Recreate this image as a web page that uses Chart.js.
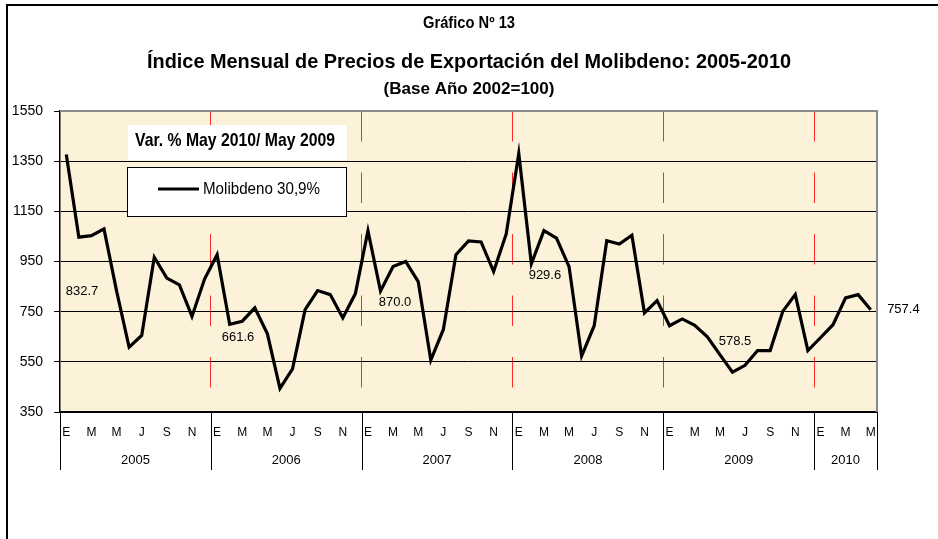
<!DOCTYPE html>
<html>
<head>
<meta charset="utf-8">
<script src="https://cdn.jsdelivr.net/npm/chart.js@4.4.1/dist/chart.umd.min.js"></script>
<style>
  html, body { margin: 0; padding: 0; background: #fff; }
  #wrap { width: 938px; height: 539px; position: relative; }
</style>
</head>
<body>
<div id="wrap"><canvas id="chart" width="938" height="539"></canvas></div>
<script>
// --- data ---
const years = ['2005', '2006', '2007', '2008', '2009', '2010'];
const monthTicks = ['E', '', 'M', '', 'M', '', 'J', '', 'S', '', 'N', ''];
const molibdeno = [
  1377, 1047, 1053, 1080, 832.7, 608, 655, 967, 884, 857, 731, 880,    // 2005
  977, 700, 712, 765, 661.6, 444, 522, 758, 834, 818, 725, 822,        // 2006
  1073, 832, 930, 950, 870.0, 557, 679, 977, 1032, 1028, 910, 1060,    // 2007
  1381, 941, 1073, 1043, 929.6, 573, 694, 1033, 1020, 1055, 745, 794,  // 2008
  694, 721, 696, 650, 578.5, 509, 536, 595, 595, 751, 818, 595,        // 2009
  646, 698, 805, 818, 757.4                                            // 2010
];
const mayNotes = ['832.7', '661.6', '870.0', '929.6', '578.5', '757.4'];
const yTicks = [350, 550, 750, 950, 1150, 1350, 1550];

const labels = [];
years.forEach(y => monthTicks.forEach(m => labels.push(m)));
labels.length = molibdeno.length;

const SANS = '"Liberation Sans", Arial, sans-serif';

// where the May notes sit (category position + pixel nudge)
const notePos = [
  { at: 1.25, dy: 0 }, { at: 13.66, dy: 4 }, { at: 26.15, dy: 21 },
  { at: 38.08, dy: 9 }, { at: 53.2, dy: -13 }, { at: 66.6, dy: 0 }
];
const noteMonth = [4, 16, 28, 40, 52, 64];

// the original uses a narrow face; squeeze Liberation Sans to the measured width
function narrowText(ctx, txt, x, y, font, width, align) {
  ctx.font = font;
  const k = width / ctx.measureText(txt).width;
  ctx.save();
  ctx.translate(x, y);
  ctx.scale(k, 1);
  ctx.textAlign = align;
  ctx.fillText(txt, 0, 0);
  ctx.restore();
}

const paper = {
  id: 'paper',
  beforeDraw(chart) {
    const { ctx, chartArea: a } = chart;
    ctx.save();
    ctx.fillStyle = '#fff';
    ctx.fillRect(0, 0, chart.width, chart.height);
    ctx.fillStyle = '#fcf2da';
    ctx.fillRect(a.left, a.top, a.right - a.left, a.bottom - a.top);
    // outer frame
    ctx.strokeStyle = '#000';
    ctx.lineWidth = 2;
    ctx.beginPath();
    ctx.moveTo(7, chart.height);
    ctx.lineTo(7, 5);
    ctx.lineTo(chart.width, 5);
    ctx.stroke();
    ctx.restore();
  },
  beforeDatasetsDraw(chart) {
    const { ctx, chartArea: a } = chart;
    ctx.save();
    ctx.strokeStyle = '#8a8a8a';
    ctx.lineWidth = 2;
    ctx.beginPath();
    ctx.moveTo(a.left, a.top);
    ctx.lineTo(a.right, a.top);
    ctx.lineTo(a.right, a.bottom);
    ctx.stroke();
    ctx.restore();
  },
  afterDatasetsDraw(chart) {
    const { ctx } = chart;
    const x = chart.scales.x, y = chart.scales.y;
    ctx.save();
    ctx.textBaseline = 'middle';
    // legend boxes
    ctx.fillStyle = '#fff';
    ctx.fillRect(128, 125, 219, 35);
    ctx.fillRect(127.5, 167.5, 219, 49);
    ctx.strokeStyle = '#000';
    ctx.lineWidth = 1;
    ctx.strokeRect(127.5, 167.5, 219, 49);
    ctx.lineWidth = 3;
    ctx.beginPath();
    ctx.moveTo(158, 189);
    ctx.lineTo(199, 189);
    ctx.stroke();

    ctx.fillStyle = '#000';
    narrowText(ctx, 'Var. % May 2010/ May 2009', 135, 141, 'bold 19px ' + SANS, 200, 'left');
    narrowText(ctx, chart.data.datasets[0].label, 203, 189, '17px ' + SANS, 117, 'left');

    // May value notes
    ctx.font = '13px ' + SANS;
    ctx.textAlign = 'center';
    mayNotes.forEach((txt, k) => {
      const px = x.getPixelForValue(notePos[k].at);
      const py = y.getPixelForValue(molibdeno[noteMonth[k]]) + notePos[k].dy;
      ctx.fillText(txt, px, py);
    });
    ctx.restore();
  },
  afterDraw(chart) {
    const { ctx, chartArea: a } = chart;
    const x = chart.scales.x;
    const half = (x.getPixelForValue(1) - x.getPixelForValue(0)) / 2;
    ctx.save();
    // year separators and year labels under the axis
    ctx.strokeStyle = '#000';
    ctx.lineWidth = 1;
    const bounds = [];
    for (let i = 0; i < molibdeno.length; i += 12) bounds.push(i);
    bounds.push(molibdeno.length);
    ctx.beginPath();
    bounds.forEach(i => {
      const px = Math.round(x.getPixelForValue(i) - half) + 0.5;
      ctx.moveTo(px, a.bottom);
      ctx.lineTo(px, 470);
    });
    ctx.stroke();
    ctx.fillStyle = '#000';
    ctx.font = '13px ' + SANS;
    ctx.textAlign = 'center';
    ctx.textBaseline = 'middle';
    years.forEach((yr, k) => {
      const i0 = bounds[k], i1 = bounds[k + 1];
      const mid = (x.getPixelForValue(i0) + x.getPixelForValue(i1 - 1)) / 2;
      ctx.fillText(yr, mid, 460);
    });
    // headings
    narrowText(ctx, 'Gráfico Nº 13', 469, 24, 'bold 16px ' + SANS, 92, 'center');
    narrowText(ctx, 'Índice Mensual de Precios de Exportación del Molibdeno: 2005-2010', 469, 62,
      'bold 21px ' + SANS, 644, 'center');
    narrowText(ctx, '(Base Año 2002=100)', 469, 90, 'bold 16px ' + SANS, 171, 'center');
    ctx.restore();
  }
};

new Chart(document.getElementById('chart'), {
  type: 'line',
  data: {
    labels: labels,
    datasets: [{
      label: 'Molibdeno 30,9%',
      data: molibdeno,
      borderColor: '#000',
      borderWidth: 3.2,
      pointRadius: 0,
      tension: 0,
      fill: false
    }]
  },
  options: {
    responsive: false,
    animation: false,
    layout: { padding: { top: 111, right: 61, bottom: 67, left: 0 } },
    plugins: {
      legend: { display: false },
      title: { display: false },
      tooltip: { enabled: false }
    },
    scales: {
      x: {
        offset: true,
        afterFit: s => { s.height = 60; },
        grid: {
          offset: true,
          drawTicks: false,
          lineWidth: 1,
          color: c => (c.index % 12 === 0 && c.index > 0 && c.index < molibdeno.length) ? '#ff2b2b' : 'rgba(0,0,0,0)'
        },
        border: { color: '#000', width: 1.5, dash: [30.5, 31] },
        ticks: {
          autoSkip: false,
          maxRotation: 0,
          padding: 13,
          color: '#000',
          font: { family: SANS, size: 12 }
        }
      },
      y: {
        min: yTicks[0],
        max: yTicks[yTicks.length - 1],
        afterFit: s => { s.width = 60; },
        afterBuildTicks: s => { s.ticks = yTicks.map(v => ({ value: v })); },
        grid: {
          color: c => (c.tick && c.tick.value === 1550) ? 'rgba(0,0,0,0)' : '#000',
          lineWidth: 1,
          tickLength: 6,
          tickColor: '#000'
        },
        border: { color: '#000', width: 1.5 },
        ticks: {
          padding: 11,
          color: '#000',
          font: { family: SANS, size: 14 },
          callback: v => String(v)
        }
      }
    }
  },
  plugins: [paper]
});
</script>
</body>
</html>
